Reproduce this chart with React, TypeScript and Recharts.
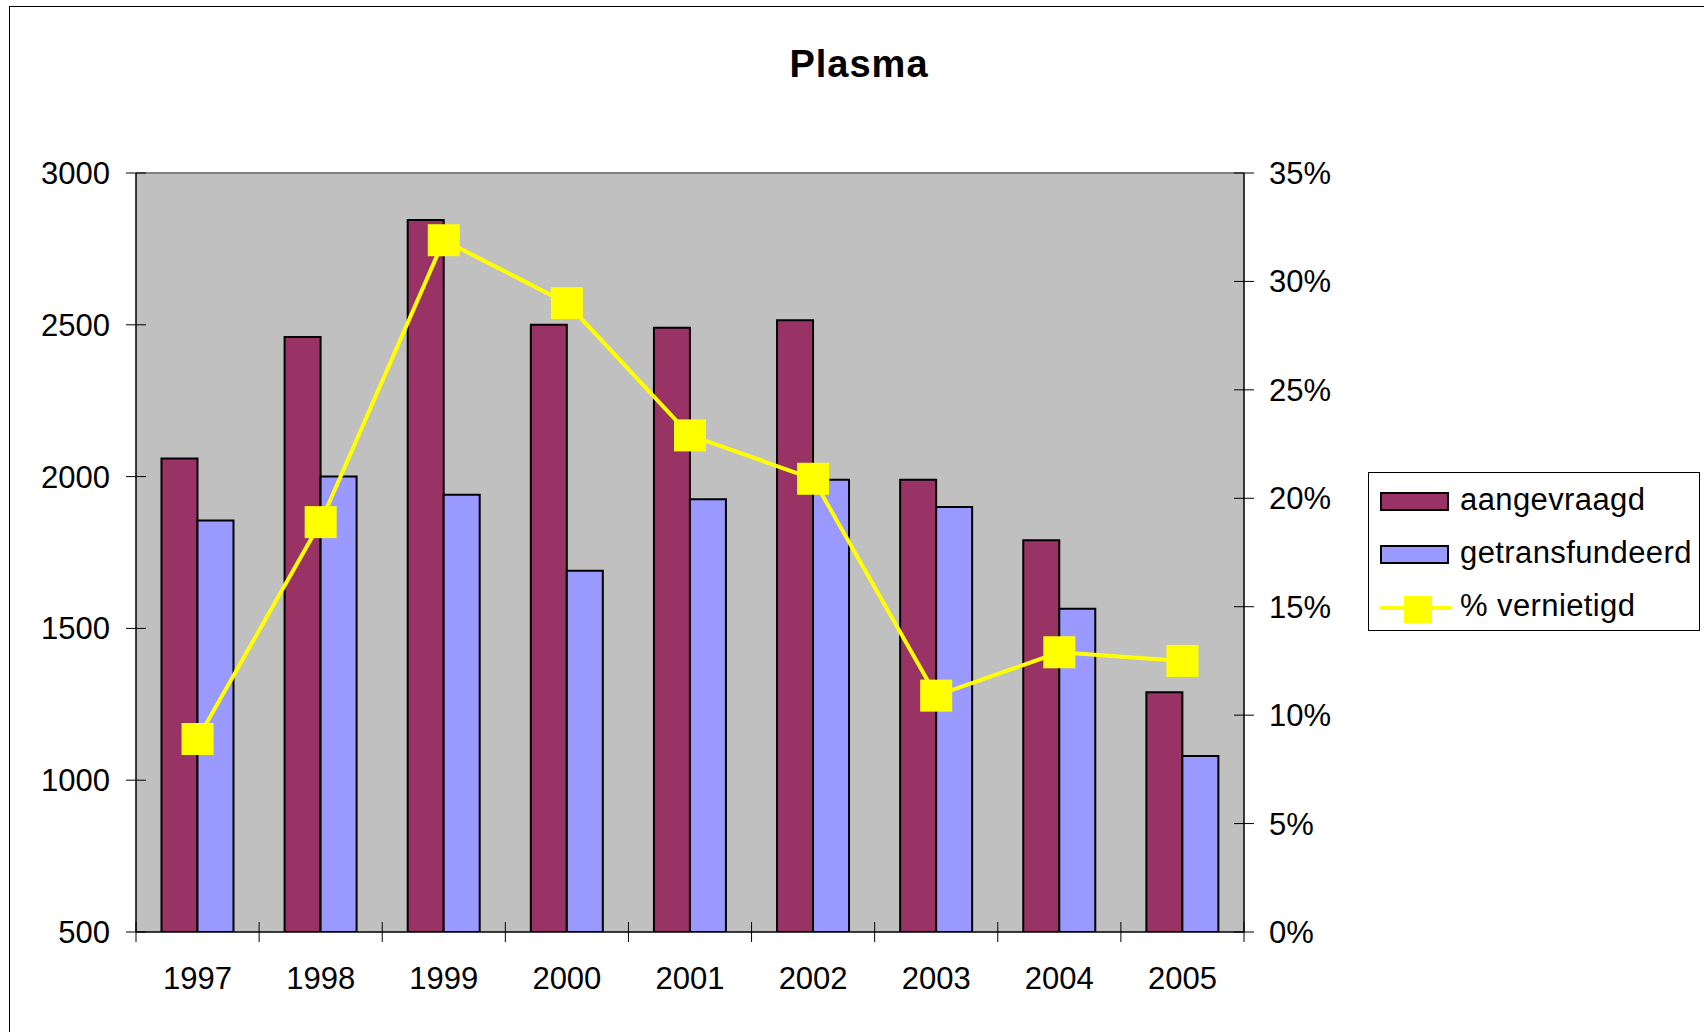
import { ComposedChart, Bar, Line, XAxis, YAxis, CartesianGrid, ReferenceLine } from "recharts";

// values
const years = ["1997", "1998", "1999", "2000", "2001", "2002", "2003", "2004", "2005"];
const aangevraagd = [2060, 2460, 2845, 2500, 2490, 2515, 1990, 1790, 1290];
const getransfundeerd = [1855, 2000, 1940, 1690, 1925, 1990, 1900, 1565, 1080];
const vernietigd = [8.9, 18.9, 31.9, 29.0, 22.9, 20.9, 10.9, 12.9, 12.5];

const leftTicks = [500, 1000, 1500, 2000, 2500, 3000];
const rightTicks = [0, 5, 10, 15, 20, 25, 30, 35];

const FONT = '"Liberation Sans", Arial, sans-serif';
const PURPLE = "#993366";
const LILAC = "#9999FF";
const YELLOW = "#FFFF00";

const data = years.map((year, i) => ({
  year,
  aangevraagd: aangevraagd[i],
  getransfundeerd: getransfundeerd[i],
  vernietigd: vernietigd[i],
}));

function LeftTick({ x, y, payload }: any) {
  return (
    <g>
      <line x1={x - 10} x2={x + 10} y1={y} y2={y} stroke="#000" strokeWidth={1} />
      <text x={x - 26} y={y} dy="0.355em" textAnchor="end" fontSize={31} fontFamily={FONT} fill="#000">
        {payload.value}
      </text>
    </g>
  );
}

function RightTick({ x, y, payload }: any) {
  return (
    <g>
      <line x1={x - 10} x2={x + 10} y1={y} y2={y} stroke="#000" strokeWidth={1} />
      <text x={x + 25} y={y} dy="0.355em" textAnchor="start" fontSize={31} fontFamily={FONT} fill="#000">
        {payload.value}%
      </text>
    </g>
  );
}

function YearTick({ x, y, payload }: any) {
  const half = payload.offset ?? 0;
  const isLast = payload.value === years[years.length - 1];
  return (
    <g>
      <line x1={x - half} x2={x - half} y1={y - 10} y2={y + 10} stroke="#000" strokeWidth={1} />
      {isLast && (
        <line x1={x + half} x2={x + half} y1={y - 10} y2={y + 10} stroke="#000" strokeWidth={1} />
      )}
      <text x={x} y={y} dy={57} textAnchor="middle" fontSize={31} fontFamily={FONT} fill="#000">
        {payload.value}
      </text>
    </g>
  );
}

function SquareDot({ cx, cy }: any) {
  if (cx == null || cy == null) return null;
  return <rect x={cx - 16} y={cy - 16} width={32} height={32} fill={YELLOW} />;
}

const legendItems = [
  { name: "aangevraagd", kind: "bar", color: PURPLE },
  { name: "getransfundeerd", kind: "bar", color: LILAC },
  { name: "% vernietigd", kind: "line", color: YELLOW },
];

export default function App() {
  return (
    <div
      style={{
        position: "absolute",
        left: 0,
        top: 0,
        width: 1704,
        height: 1032,
        background: "#fff",
        overflow: "hidden",
      }}
    >
      <div
        style={{
          position: "absolute",
          left: 9,
          top: 6,
          width: 1720,
          height: 1060,
          border: "1px solid #000",
        }}
      />
      <ComposedChart
        width={1704}
        height={1032}
        data={data}
        margin={{ top: 173, left: 36, right: 340, bottom: 40 }}
        barCategoryGap="20.7%"
        barGap={0}
      >
        <CartesianGrid fill="#C0C0C0" horizontal={false} vertical={false} yAxisId="left" />
        <XAxis
          dataKey="year"
          height={60}
          axisLine={{ stroke: "#000", strokeWidth: 1.5 }}
          tickLine={false}
          tickSize={0}
          tickMargin={0}
          tick={<YearTick />}
          interval={0}
        />
        <YAxis
          yAxisId="left"
          width={100}
          domain={[500, 3000]}
          ticks={leftTicks}
          allowDataOverflow
          axisLine={{ stroke: "#000", strokeWidth: 1.5 }}
          tickLine={false}
          tickSize={0}
          tickMargin={0}
          tick={<LeftTick />}
          interval={0}
        />
        <YAxis
          yAxisId="right"
          orientation="right"
          width={120}
          domain={[0, 35]}
          ticks={rightTicks}
          allowDataOverflow
          axisLine={{ stroke: "#000", strokeWidth: 1.5 }}
          tickLine={false}
          tickSize={0}
          tickMargin={0}
          tick={<RightTick />}
          interval={0}
        />
        <ReferenceLine yAxisId="left" y={3000} stroke="#808080" strokeWidth={2} />
        <Bar
          yAxisId="left"
          dataKey="aangevraagd"
          fill={PURPLE}
          stroke="#000"
          strokeWidth={2}
          isAnimationActive={false}
        />
        <Bar
          yAxisId="left"
          dataKey="getransfundeerd"
          fill={LILAC}
          stroke="#000"
          strokeWidth={2}
          isAnimationActive={false}
        />
        <Line
          yAxisId="right"
          type="linear"
          dataKey="vernietigd"
          stroke={YELLOW}
          strokeWidth={4}
          dot={<SquareDot />}
          activeDot={false}
          isAnimationActive={false}
        />
      </ComposedChart>
      <svg
        width={1704}
        height={1032}
        style={{ position: "absolute", left: 0, top: 0, pointerEvents: "none" }}
      >
        <text
          x={859}
          y={77}
          textAnchor="middle"
          fontSize={38}
          fontWeight="bold"
          fontFamily={FONT}
          letterSpacing={1}
          fill="#000"
        >
          Plasma
        </text>
        <rect x={1368.5} y={472.5} width={331} height={158} fill="#fff" stroke="#000" strokeWidth={1} />
        {legendItems.map((item, i) => {
          const cy = 501 + i * 53;
          return (
            <g key={item.name}>
              {item.kind === "bar" ? (
                <rect x={1381} y={cy - 8} width={67} height={17} fill={item.color} stroke="#000" strokeWidth={2} />
              ) : (
                <g>
                  <line x1={1380} x2={1452} y1={cy + 1} y2={cy + 1} stroke={item.color} strokeWidth={4} />
                  <rect x={1404} y={cy - 11} width={28} height={27} fill={item.color} />
                </g>
              )}
              <text x={1460} y={cy + 9} fontSize={31} fontFamily={FONT} fill="#000" letterSpacing={0.4}>
                {item.name}
              </text>
            </g>
          );
        })}
      </svg>
    </div>
  );
}
